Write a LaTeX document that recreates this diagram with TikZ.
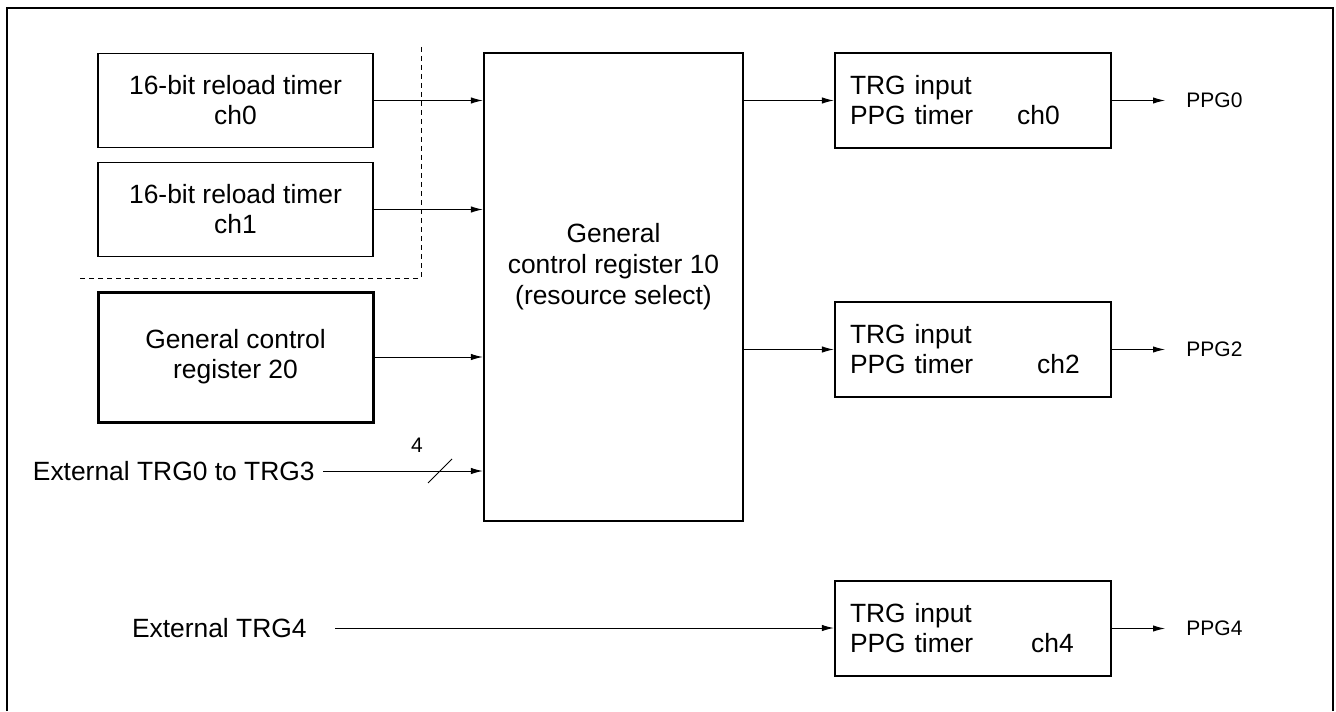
\documentclass[tikz,border=0pt]{standalone}
\usepackage{fontspec}
\setmainfont{Liberation Sans}
\usetikzlibrary{arrows.meta,positioning}

\begin{document}
\begin{tikzpicture}[x=0.5pt,y=-0.5pt,
        txt/.style={font=\fontsize{13.2}{15}\selectfont},
        small/.style={font=\fontsize{10.5}{12}\selectfont,inner sep=0pt},
        box/.style={txt,draw,line width=0.65pt,minimum width=137.5pt,minimum height=47pt,align=center},
        boldbox/.style={box,line width=1.5pt,minimum height=65pt},
        ppgbox/.style={txt,draw,line width=1.1pt,minimum width=138pt,minimum height=47.5pt,
            text width=123pt,inner xsep=7.5pt,align=left},
        sig/.style={line width=0.5pt,-{Latex[length=6pt,width=3.2pt]}}]
    \useasboundingbox (0,0) rectangle (1336,711);
    % Rahmen
    \draw[line width=0.85pt] (7,711) -- (7,8) -- (1333,8) -- (1333,711);
    % Eingaenge
    \node[box] (tmra) at (235.5,100.5) {16-bit reload timer\\ch0};
    \node[box] (tmrb) at (235.5,209.5) {16-bit reload timer\\ch1};
    \node[boldbox] (gcr20) at (235.5,357) {General control\\register 20};
    \node[txt,inner sep=0pt,anchor=east] (exta) at (315,471) {External TRG0 to TRG3};
    \node[txt,inner sep=0pt,anchor=east] (extb) at (307,628) {External TRG4};
    \draw[line width=0.5pt,dash pattern=on 2.5pt off 2pt] (421,47) -- (421,278) -- (77,278);
    % Ressourcenauswahl
    \node[draw,line width=1.1pt,minimum width=129.5pt,minimum height=234pt] (gcr10) at (613.5,287) {};
    \node[txt,align=center,font=\fontsize{13.2}{15.5}\selectfont] (gcr10lbl) at (613.5,267)
        {General\\control register 10\\(resource select)};
    % PPG
    \node[ppgbox] (ppga) at (973,100.5) {TRG input\\PPG timer\hspace{22pt}ch0};
    \node[ppgbox] (ppgb) at (973,349.5) {TRG input\\PPG timer\hspace{32pt}ch2};
    \node[ppgbox] (ppgc) at (973,628.5) {TRG input\\PPG timer\hspace{29pt}ch4};
    \node[small,anchor=west] (outa) at (1186,100.5) {PPG0};
    \node[small,anchor=west] (outb) at (1186,349.5) {PPG2};
    \node[small,anchor=west] (outc) at (1186,628.5) {PPG4};
    % Verbindungen
    \draw[sig] (tmra.east) -- (tmra.east -| gcr10.west);
    \draw[sig] (tmrb.east) -- (tmrb.east -| gcr10.west);
    \draw[sig] (gcr20.east) -- (gcr20.east -| gcr10.west);
    \draw[sig] ([xshift=4pt]exta.east) -- (exta.east -| gcr10.west);
    \draw[line width=0.5pt] (440,471) +(-12,12) -- +(12,-12);
    \node[small] (buswidth) at (417,445) {4};
    \draw[sig] (ppga.west -| gcr10.east) -- (ppga.west);
    \draw[sig] (ppgb.west -| gcr10.east) -- (ppgb.west);
    \draw[sig] ([xshift=14pt]extb.east) -- (extb.east -| ppgc.west);
    \draw[sig] (ppga.east) -- ([xshift=-10.5pt]ppga.east -| outa.west);
    \draw[sig] (ppgb.east) -- ([xshift=-10.5pt]ppgb.east -| outb.west);
    \draw[sig] (ppgc.east) -- ([xshift=-10.5pt]ppgc.east -| outc.west);
\end{tikzpicture}
\end{document}
